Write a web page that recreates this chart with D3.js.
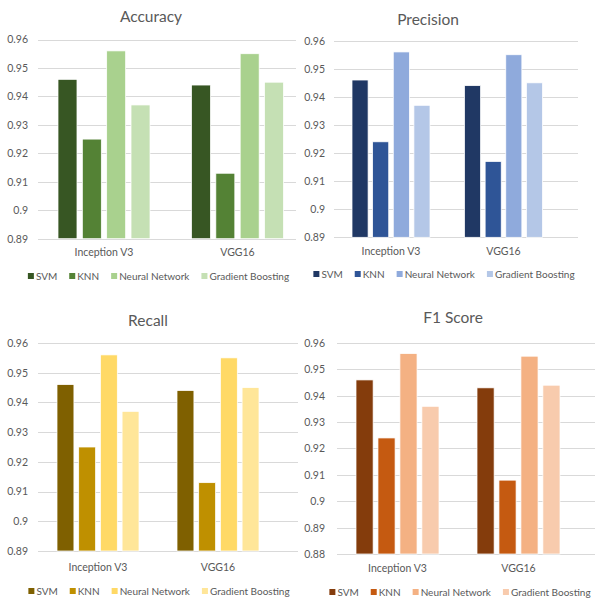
<!DOCTYPE html>
<html>
<head>
<meta charset="utf-8">
<script src="https://cdn.jsdelivr.net/npm/d3@7"></script>
<style>
  html, body { margin: 0; padding: 0; background: #fff; }
  svg { display: block; font-family: "Lato", "Open Sans", sans-serif; }
</style>
</head>
<body>
<svg id="chart" width="595" height="598"></svg>
<script>
// Classifiers compared and the two feature extractors
const models = ["SVM", "KNN", "Neural Network", "Gradient Boosting"];
const backbones = ["Inception V3", "VGG16"];

// Scores per backbone, in the order of `models`
const accuracyInception = [0.946, 0.925, 0.956, 0.937];
const accuracyVGG16     = [0.944, 0.913, 0.955, 0.945];
const precisionInception = [0.946, 0.924, 0.956, 0.937];
const precisionVGG16     = [0.944, 0.917, 0.955, 0.945];
const recallInception = [0.946, 0.925, 0.956, 0.937];
const recallVGG16     = [0.944, 0.913, 0.955, 0.945];
const f1Inception = [0.946, 0.924, 0.956, 0.936];
const f1VGG16     = [0.943, 0.908, 0.955, 0.944];

// Axis ticks
const ticksScore = [0.89, 0.90, 0.91, 0.92, 0.93, 0.94, 0.95, 0.96];
const ticksF1    = [0.88, 0.89, 0.90, 0.91, 0.92, 0.93, 0.94, 0.95, 0.96];

// Colour ramps, dark to light, one per metric
const greens  = ["#375623", "#548235", "#A9D18E", "#C5E0B4"];
const blues   = ["#203864", "#2F5597", "#8FAADC", "#B4C7E7"];
const golds   = ["#7F6000", "#BF9000", "#FFD966", "#FFE699"];
const oranges = ["#843C0C", "#C55A11", "#F4B183", "#F8CBAD"];

const metrics = [
  { title: "Accuracy",  series: [accuracyInception, accuracyVGG16],   ticks: ticksScore, colors: greens },
  { title: "Precision", series: [precisionInception, precisionVGG16], ticks: ticksScore, colors: blues },
  { title: "Recall",    series: [recallInception, recallVGG16],       ticks: ticksScore, colors: golds },
  { title: "F1 Score",  series: [f1Inception, f1VGG16],               ticks: ticksF1,    colors: oranges }
];

// Geometry of each small chart on the page
const layout = [
  { bandX: [37.25, 304.25], group: 92, gridX: [38, 296], yRange: [238.7, 39.5], tickX: 28,
    titleX: 151, titleY: 22, catY: 256, legendCx: 158.5, legendY: 276 },
  { bandX: [334.75, 559.75], group: 78, gridX: [334, 578], yRange: [237.3, 40.7], tickX: 325,
    titleX: 428, titleY: 25, catY: 255, legendCx: 444, legendY: 274 },
  { bandX: [38, 278], group: 82, gridX: [38, 298], yRange: [551, 343], tickX: 28,
    titleX: 148, titleY: 326, catY: 571, legendCx: 159, legendY: 591 },
  { bandX: [337, 579], group: 83, gridX: [337, 595], yRange: [554, 343], tickX: 325,
    titleX: 453, titleY: 323, catY: 572, legendCx: 460, legendY: 592 }
];

const svg = d3.select("#chart");
const textColor = "#595959";
const gridColor = "#D9D9D9";
const smallFont = "10.5px";
const legendFont = "10px";
const fmt = v => String(+v.toFixed(2));

metrics.forEach((m, i) => {
  const L = layout[i];
  const g = svg.append("g");

  const y = d3.scaleLinear()
    .domain([m.ticks[0], m.ticks[m.ticks.length - 1]])
    .range(L.yRange);

  const x0 = d3.scaleBand().domain(backbones).range(L.bandX);
  const pad = (x0.bandwidth() - L.group) / 2;
  const x1 = d3.scaleBand().domain(models).range([pad, pad + L.group]).paddingInner(0.22);

  // Horizontal gridlines
  g.append("g").selectAll("line").data(m.ticks).join("line")
    .attr("x1", L.gridX[0]).attr("x2", L.gridX[1])
    .attr("y1", d => Math.round(y(d)) + 0.5).attr("y2", d => Math.round(y(d)) + 0.5)
    .attr("stroke", gridColor).attr("stroke-width", 1);

  // Value axis labels
  const yAxis = d3.axisLeft(y).tickValues(m.ticks).tickFormat(fmt).tickSize(0).tickPadding(0);
  const ya = g.append("g").attr("transform", `translate(${L.tickX},0)`).call(yAxis);
  ya.select(".domain").remove();
  ya.selectAll("text").attr("fill", textColor).style("font-size", smallFont)
    .style("font-family", "Lato, 'Open Sans', sans-serif");

  // Bars
  const groups = g.append("g").selectAll("g").data(backbones).join("g")
    .attr("transform", d => `translate(${x0(d)},0)`);
  groups.selectAll("rect")
    .data((b, bi) => models.map((name, k) => ({ name, k, v: m.series[bi][k] })))
    .join("rect")
    .attr("x", d => x1(d.name))
    .attr("width", x1.bandwidth())
    .attr("y", d => y(d.v))
    .attr("height", d => y.range()[0] - y(d.v))
    .attr("fill", d => m.colors[d.k])
    .attr("stroke", "#fff").attr("stroke-width", 0.75);

  // Category axis labels
  g.append("g").selectAll("text").data(backbones).join("text")
    .attr("x", d => x0(d) + x0.bandwidth() / 2)
    .attr("y", L.catY)
    .attr("text-anchor", "middle")
    .attr("fill", textColor).style("font-size", smallFont)
    .text(d => d);

  // Title
  g.append("text")
    .attr("x", L.titleX).attr("y", L.titleY)
    .attr("text-anchor", "middle")
    .attr("fill", textColor).style("font-size", "15.5px")
    .text(m.title);

  // Legend, centred under the plot and kept inside the page
  const leg = g.append("g");
  let cx = 0;
  models.forEach((name, k) => {
    leg.append("rect")
      .attr("x", cx).attr("y", L.legendY - 3)
      .attr("width", 6).attr("height", 6)
      .attr("fill", m.colors[k]);
    const t = leg.append("text")
      .attr("x", cx + 8).attr("y", L.legendY + 3.5)
      .attr("fill", textColor).style("font-size", legendFont)
      .text(name);
    cx += 8 + t.node().getComputedTextLength() + (k < models.length - 1 ? 12 : 0);
  });
  let start = L.legendCx - cx / 2;
  start = Math.min(start, 593 - cx);
  leg.attr("transform", `translate(${start},0)`);
});
</script>
</body>
</html>
